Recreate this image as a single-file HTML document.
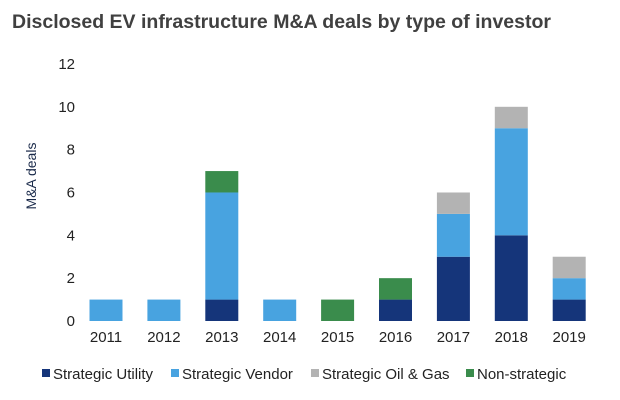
<!DOCTYPE html>
<html><head><meta charset="utf-8"><style>
body{margin:0;background:#fff;font-family:"Liberation Sans",sans-serif;}
#c{position:relative;width:620px;height:400px;overflow:hidden}
</style></head><body><div id="c">
<svg id="s" width="620" height="400">
<text x="12" y="28" font-size="19" font-weight="bold" fill="#404040" textLength="539" lengthAdjust="spacingAndGlyphs">Disclosed EV infrastructure M&amp;A deals by type of investor</text>
<text transform="translate(36,176) rotate(-90)" text-anchor="middle" font-size="14" fill="#1a2a4a">M&amp;A deals</text>
</svg></div>
<script>
const categories=["2011","2012","2013","2014","2015","2016","2017","2018","2019"];
const utility=[0,0,1,0,0,1,3,4,1];
const vendor=[1,1,5,1,0,0,2,5,1];
const oilgas=[0,0,0,0,0,0,1,1,1];
const nonstrat=[0,0,1,0,1,1,0,0,0];
const yTicks=[0,2,4,6,8,10,12];
const seriesNames=["Strategic Utility","Strategic Vendor","Strategic Oil & Gas","Non-strategic"];
const colors=["#15357a","#48a3e0","#b3b3b3","#3a8c4c"];
const NS="http://www.w3.org/2000/svg",s=document.getElementById('s');
const y=v=>321-v*21.42, x=i=>106+i*57.9;
function mk(t,a,txt){const e=document.createElementNS(NS,t);for(const k in a)e.setAttribute(k,a[k]);if(txt!=null)e.textContent=txt;s.appendChild(e);return e;}
yTicks.forEach(v=>{const e=mk('text',{x:75,y:y(v)+5,'text-anchor':'end','font-size':15,fill:'#222'},v);

});
const series=[utility,vendor,oilgas,nonstrat];
categories.forEach((c,i)=>{let acc=0;
series.forEach((sv,k)=>{const v=sv[i];if(v>0){const r=mk('rect',{x:x(i)-16.5,y:y(acc+v),width:33,height:y(acc)-y(acc+v),fill:colors[k]});

}acc+=v;});
const t=mk('text',{x:x(i),y:342,'text-anchor':'middle','font-size':15,fill:'#222'},c);

});
const lx=[42,171,311,466];
seriesNames.forEach((n,k)=>{const r=mk('rect',{x:lx[k],y:369,width:8,height:8,fill:colors[k]});


const t=mk('text',{x:lx[k]+11,y:379,'font-size':15,fill:'#222'},n);

});
</script></body></html>
